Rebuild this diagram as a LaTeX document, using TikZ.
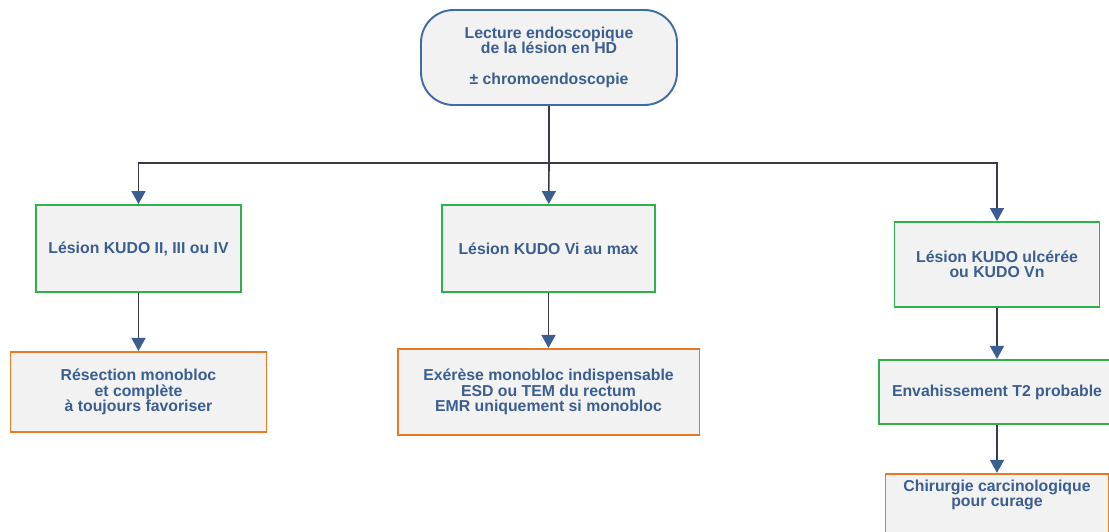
\documentclass[tikz,border=0pt]{standalone}
\usepackage{fontspec}
\setmainfont{Liberation Sans}
\usetikzlibrary{arrows.meta,positioning}
\definecolor{kudoblue}{HTML}{3B5E91}
\definecolor{kudoframe}{HTML}{3F6CA5}
\definecolor{kudogreen}{HTML}{2BB24C}
\definecolor{kudoorange}{HTML}{E97A25}
\definecolor{kudofill}{HTML}{F2F2F2}
\definecolor{kudoline}{HTML}{3A3A48}
\tikzset{
  >={Triangle[length=2.6mm,width=2.8mm,color=kudoblue]},
  block/.style={draw,fill=kudofill,line width=1.1pt,align=center,inner sep=2pt,
    text=kudoblue,font=\fontsize{9}{8.8}\selectfont\bfseries},
  lesion/.style={block,draw=kudogreen},
  action/.style={block,draw=kudoorange},
  start/.style={block,draw=kudoframe,rounded corners=0.65cm},
  arrow/.style={->,draw=kudoline,line width=0.9pt},
}

\begin{document}
\begin{tikzpicture}[x=0.02cm,y=-0.02cm]
			\useasboundingbox (0,0) rectangle (1109,531);
			\node[start,minimum width=5.12cm,minimum height=1.9cm] (lecture) at (549,57.5)
			  {Lecture endoscopique\\de la lésion en HD\\[8.8pt]± chromoendoscopie};
			\coordinate (bus) at (549,163);
			\node[lesion,minimum width=4.1cm,minimum height=1.74cm] (kudoA) at (138.5,248.5) {Lésion KUDO II, III ou IV};
			\node[lesion,minimum width=4.26cm,minimum height=1.74cm] (kudoB) at (548.5,248.5) {Lésion KUDO Vi au max};
			\node[lesion,minimum width=4.1cm,minimum height=1.7cm] (kudoC) at (997,264.5) {Lésion KUDO ulcérée\\ou KUDO Vn};
			\node[action,minimum width=5.12cm,minimum height=1.6cm,below=1.16cm of kudoA] (resect) {Résection monobloc\\et complète\\à toujours favoriser};
			\node[action,minimum width=6.04cm,minimum height=1.72cm,below=1.1cm of kudoB] (exerese) {Exérèse monobloc indispensable\\ESD ou TEM du rectum\\EMR uniquement si monobloc};
			\node[lesion,minimum width=4.72cm,minimum height=1.28cm,below=1.02cm of kudoC] (envah) {Envahissement T2 probable};
			\node[action,minimum width=4.46cm,minimum height=1.4cm,below=0.96cm of envah] (chir) {Chirurgie carcinologique\\pour curage\\[8.8pt]};
			\draw[draw=kudoline,line width=1.3pt] (lecture) -- (bus);
			\draw[arrow] (bus) -| (kudoA);
			\draw[arrow] (bus) -- (kudoB);
			\draw[arrow] (bus) -| (kudoC);
			\draw[arrow] (kudoA) -- (resect);
			\draw[arrow] (kudoB) -- (exerese);
			\draw[arrow] (kudoC) -- (envah);
			\draw[arrow] (envah) -- (chir);
		\end{tikzpicture}
\end{document}
